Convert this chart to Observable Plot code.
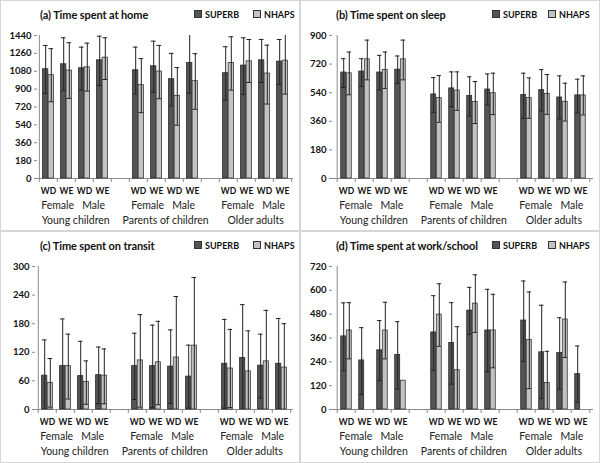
<!DOCTYPE html>
<html>
<head>
<meta charset="utf-8">
<script src="https://cdn.jsdelivr.net/npm/d3@7"></script>
<script src="https://cdn.jsdelivr.net/npm/@observablehq/plot@0.6"></script>
<style>
  body { margin: 0; background: #fff; font-family: Lato, "Open Sans", sans-serif; }
  #grid { display: grid; grid-template-columns: 300px 300px; grid-template-rows: 231px 232px; width: 600px; height: 463px; }
  .panel { position: relative; width: 300px; height: 100%; box-shadow: inset 0 0 0 1px #d6d6d6; overflow: hidden; }
  .panel svg { position: absolute; left: 0; top: 0; }
  .title { position: absolute; top: 8px; font-weight: bold; font-size: 11px; color: #111; white-space: nowrap; letter-spacing: -0.1px; }
  .item { position: absolute; top: 9px; font-weight: bold; font-size: 9px; color: #111; white-space: nowrap; }
  .sw { display: inline-block; width: 6px; height: 6px; border: 1px solid #333; margin-right: 3px; vertical-align: 0px; }
</style>
</head>
<body>
<div id="grid"></div>
<script>
// ---- categories ----
const groups = ["Young children", "Parents of children", "Older adults"];
const sexes = ["Female", "Male"];
const days = ["WD", "WE"];
const seriesNames = ["SUPERB", "NHAPS"];

// ---- (a) Time spent at home ----
const homeTicks = [0, 180, 360, 540, 720, 900, 1080, 1260, 1440];
const homeSuperb   = [1100, 1150, 1110, 1190, 1090, 1130, 1000, 1163, 1060, 1137, 1190, 1177];
const homeSuperbLo = [857, 883, 890, 937, 850, 867, 730, 860, 790, 847, 967, 947];
const homeSuperbHi = [1340, 1417, 1323, 1433, 1323, 1383, 1260, 1470, 1327, 1417, 1400, 1400];
const homeNhaps    = [1040, 1087, 1120, 1217, 940, 1077, 833, 980, 1163, 1180, 1057, 1187];
const homeNhapsLo  = [773, 807, 880, 997, 663, 803, 537, 697, 890, 967, 750, 850];
const homeNhapsHi  = [1307, 1367, 1363, 1417, 1207, 1340, 1117, 1257, 1427, 1400, 1343, 1470];

// ---- (b) Time spent on sleep ----
const sleepTicks = [0, 180, 360, 540, 720, 900];
const sleepSuperb   = [667, 673, 667, 685, 529, 567, 519, 560, 525, 556, 510, 523];
const sleepSuperbLo = [573, 579, 558, 598, 417, 452, 392, 463, 379, 425, 375, 413];
const sleepSuperbHi = [754, 754, 775, 771, 635, 671, 640, 658, 663, 685, 646, 625];
const sleepNhaps    = [662, 750, 683, 750, 506, 554, 481, 537, 506, 533, 483, 523];
const sleepNhapsLo  = [527, 621, 567, 621, 354, 429, 346, 402, 379, 404, 362, 400];
const sleepNhapsHi  = [796, 871, 796, 871, 648, 671, 610, 663, 633, 654, 600, 646];

// ---- (c) Time spent on transit ----
const transitTicks = [0, 60, 120, 180, 240, 300];
const transitSuperb   = [71, 91, 70, 72, 91, 91, 90, 69, 96, 108, 92, 96];
const transitSuperbLo = [0, 0, 0, 12, 21, 4, 13, 3, 3, 0, 24, 0];
const transitSuperbHi = [146, 190, 143, 131, 160, 177, 167, 135, 189, 220, 158, 191];
const transitNhaps    = [56, 91, 58, 71, 103, 99, 109, 134, 86, 80, 101, 88];
const transitNhapsLo  = [5, 22, 11, 12, 5, 10, 0, 0, 4, 0, 0, 0];
const transitNhapsHi  = [107, 158, 102, 127, 199, 185, 237, 277, 168, 165, 208, 180];

// ---- (d) Time spent at work/school ----
const workTicks = [0, 120, 240, 360, 480, 600, 720];
const workSuperb   = [368, 247, 298, 275, 388, 335, 498, 398, 448, 288, 285, 178];
const workSuperbLo = [195, 75, 145, 103, 198, 128, 378, 190, 242, 55, 102, 37];
const workSuperbHi = [537, 412, 448, 442, 573, 538, 615, 605, 647, 525, 462, 320];
const workNhaps    = [398, null, 398, 145, 478, 198, 533, 398, 350, 133, 453, null];
const workNhapsLo  = [255, null, 255, null, 318, 0, 388, 210, 105, 0, 262, null];
const workNhapsHi  = [538, null, 540, null, 633, 417, 678, 580, 592, 293, 642, null];

// ---- slots (12 categories + 2 blank gaps) ----
const cats = [];
const slots = [];
groups.forEach((g, gi) => {
  if (gi > 0) slots.push("gap" + gi);
  sexes.forEach(s => days.forEach(d => {
    const key = g + "|" + s + "|" + d;
    cats.push({key, group: g, sex: s, day: d});
    slots.push(key);
  }));
});

function makeRows(sv, sLo, sHi, nv, nLo, nHi) {
  const rows = [];
  cats.forEach((c, i) => {
    rows.push({slot: c.key, series: "SUPERB", v: sv[i], lo: sLo[i], hi: sHi[i]});
    rows.push({slot: c.key, series: "NHAPS", v: nv[i], lo: nLo[i], hi: nHi[i]});
  });
  return rows;
}

const panels = [
  {title: "(a) Time spent at home", ticks: homeTicks, ml: 37, legendX: [194, 253],
   rows: makeRows(homeSuperb, homeSuperbLo, homeSuperbHi, homeNhaps, homeNhapsLo, homeNhapsHi)},
  {title: "(b) Time spent on sleep", ticks: sleepTicks, ml: 32, legendX: [192, 248],
   rows: makeRows(sleepSuperb, sleepSuperbLo, sleepSuperbHi, sleepNhaps, sleepNhapsLo, sleepNhapsHi)},
  {title: "(c) Time spent on transit", ticks: transitTicks, ml: 35, legendX: [194, 253],
   rows: makeRows(transitSuperb, transitSuperbLo, transitSuperbHi, transitNhaps, transitNhapsLo, transitNhapsHi)},
  {title: "(d) Time spent at work/school", ticks: workTicks, ml: 32, legendX: [192, 248],
   rows: makeRows(workSuperb, workSuperbLo, workSuperbHi, workNhaps, workNhapsLo, workNhapsHi)}
];

const fills = {SUPERB: "#545454", NHAPS: "#c2c2c2"};
const grid = document.getElementById("grid");
const FONT = "Lato, 'Open Sans', sans-serif";

panels.forEach((p, pi) => {
  const W = 300, H = pi < 2 ? 231 : 232;
  const mL = p.ml, mR = 7, mT = 35, mB = H - 178;
  const step = (W - mL - mR) / slots.length;
  const barW = 5.6, cap = 5;
  const ph = H - mT - mB;
  const S = p.rows.filter(d => d.series === "SUPERB" && d.v != null);
  const N = p.rows.filter(d => d.series === "NHAPS" && d.v != null);
  const errS = S.filter(d => d.hi != null);
  const errN = N.filter(d => d.hi != null);
  const sexRows = cats.filter(c => c.day === "WD");
  const groupRows = cats.filter(c => c.sex === "Female" && c.day === "WE");
  const capOpts = (off) => ({insetLeft: step / 2 + off - cap / 2, insetRight: step / 2 - off - cap / 2, stroke: "#222", strokeWidth: 1, clip: true});

  const chart = Plot.plot({
    width: W, height: H,
    marginLeft: mL, marginRight: mR, marginTop: mT, marginBottom: mB,
    style: {fontFamily: FONT, background: "transparent", overflow: "visible", color: "#111"},
    x: {type: "band", domain: slots, padding: 0, axis: null},
    y: {domain: [p.ticks[0], p.ticks[p.ticks.length - 1]], axis: null},
    marks: [
      Plot.axisY({ticks: p.ticks, tickFormat: d => String(d), tickSize: 3, tickPadding: 3,
        fontWeight: "bold", fontSize: 9.5, stroke: "#8a8a8a", fill: "#111"}),
      Plot.ruleX([slots[0]], {dx: -step / 2, stroke: "#8a8a8a"}),
      Plot.ruleY([0], {stroke: "#8a8a8a"}),
      Plot.ruleX(slots, {dx: -step / 2, insetTop: ph, insetBottom: -4, stroke: "#8a8a8a"}),
      Plot.ruleX([slots[slots.length - 1]], {dx: step / 2, insetTop: ph, insetBottom: -4, stroke: "#8a8a8a"}),
      Plot.barY(S, {x: "slot", y: "v", fill: fills.SUPERB, stroke: "#2a2a2a", strokeWidth: 0.8,
        insetLeft: step / 2 - barW, insetRight: step / 2}),
      Plot.barY(N, {x: "slot", y: "v", fill: fills.NHAPS, stroke: "#3a3a3a", strokeWidth: 0.8,
        insetLeft: step / 2, insetRight: step / 2 - barW}),
      Plot.ruleX(errS, {x: "slot", y1: "lo", y2: "hi", dx: -barW / 2, stroke: "#222", strokeWidth: 1, clip: true}),
      Plot.ruleX(errN, {x: "slot", y1: "lo", y2: "hi", dx: barW / 2, stroke: "#222", strokeWidth: 1, clip: true}),
      Plot.tickY(errS, {x: "slot", y: "hi", ...capOpts(-barW / 2)}),
      Plot.tickY(errN, {x: "slot", y: "hi", ...capOpts(barW / 2)}),
      Plot.tickY(errS.filter(d => d.lo > 0), {x: "slot", y: "lo", ...capOpts(-barW / 2)}),
      Plot.tickY(errN.filter(d => d.lo > 0), {x: "slot", y: "lo", ...capOpts(barW / 2)}),
      Plot.text(cats, {x: "key", text: "day", frameAnchor: "bottom", dy: 15, fontWeight: "bold", fontSize: 8.5, fill: "#111"}),
      Plot.text(sexRows, {x: "key", text: "sex", frameAnchor: "bottom", dy: 30, dx: step / 2, fontSize: 10.5, fill: "#222"}),
      Plot.text(groupRows, {x: "key", text: "group", frameAnchor: "bottom", dy: 45.5, dx: step / 2, fontSize: 10.5, fill: "#222"})
    ]
  });

  const panel = document.createElement("div");
  panel.className = "panel";
  panel.appendChild(chart);
  const title = document.createElement("div");
  title.className = "title";
  title.style.left = (pi % 2 === 0 ? 40 : 36) + "px";
  title.textContent = p.title;
  panel.appendChild(title);
  seriesNames.forEach((name, si) => {
    const item = document.createElement("div");
    item.className = "item";
    item.style.left = p.legendX[si] + "px";
    const sw = document.createElement("span");
    sw.className = "sw";
    sw.style.background = fills[name];
    item.appendChild(sw);
    item.appendChild(document.createTextNode(name));
    panel.appendChild(item);
  });
  grid.appendChild(panel);
});
</script>
</body>
</html>
